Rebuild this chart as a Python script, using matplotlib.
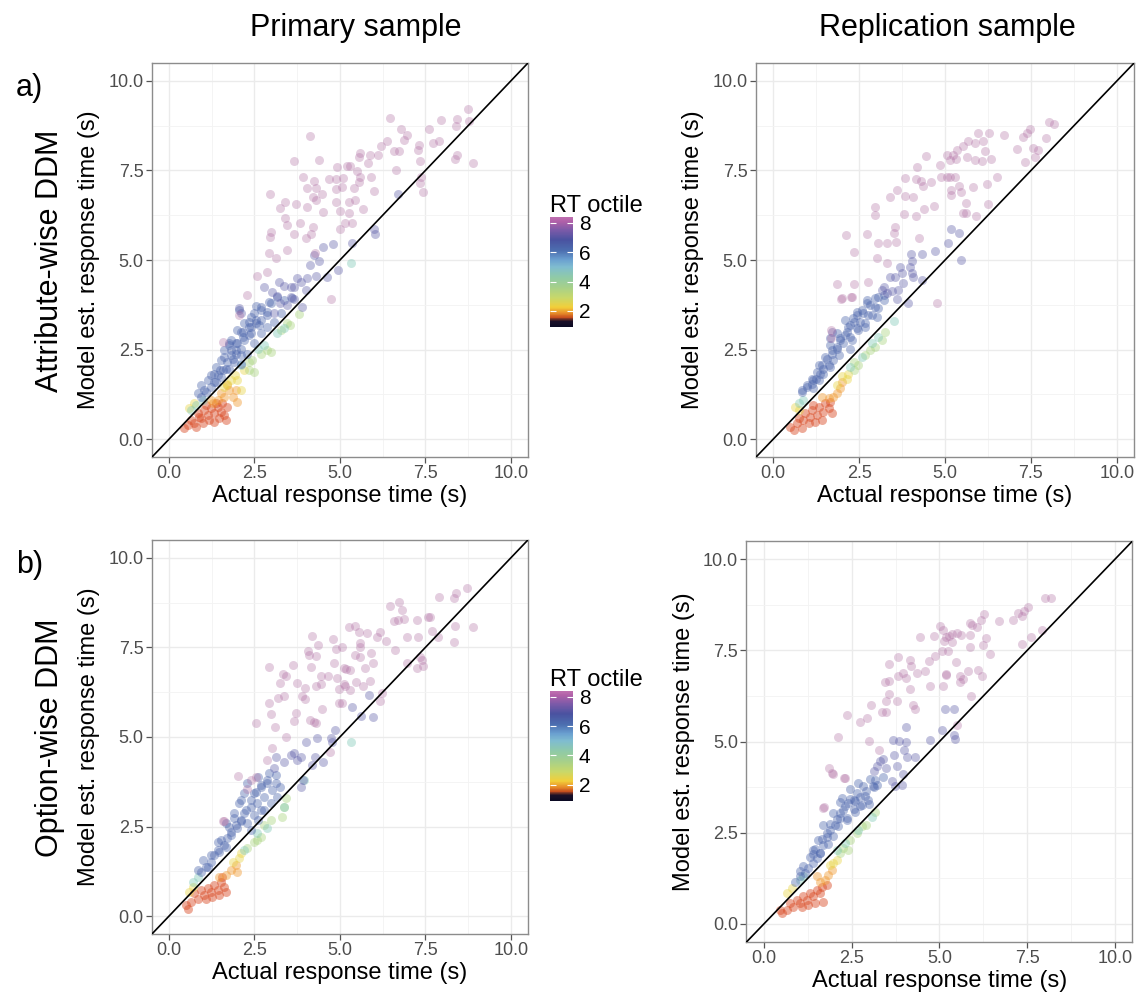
#RT octile scatter: model estimated vs actual response time, 2x2 panels

import numpy as np
import matplotlib.pyplot as plt
from matplotlib.colors import LinearSegmentedColormap, Normalize
from matplotlib.cm import ScalarMappable

plt.rcParams['font.family'] = ['Liberation Sans', 'DejaVu Sans']

# ---- data: {octile: [(actual RT, model RT), ...]} ----
attr_primary = {
    1: [(0.54,0.39),(0.74,0.44),(0.93,0.58),(1.13,0.67),(1.32,0.72),(1.52,0.76),(1.03,0.81),(1.22,0.86),
        (1.42,0.90),(1.61,0.67),(0.84,0.72),(0.64,0.53),(0.98,0.44),(1.18,0.53),(1.47,0.58),(1.66,0.53),
        (1.71,0.90),(0.79,0.34),(0.45,0.30),(1.32,0.48),(1.08,0.95),(1.56,1.00),(0.89,0.63),(1.37,1.00)],
    2: [(1.42,1.09),(1.61,1.18),(1.76,1.37),(1.22,1.09),(2.00,1.04),(1.86,1.18),(1.52,1.28),(1.95,1.37),
        (1.71,1.51),(1.30,1.00)],
    3: [(2.00,1.65),(2.10,1.37),(1.81,1.65),(2.20,1.93),(1.92,1.79),(0.74,1.00),(0.59,0.86),(1.60,1.45),
        (1.70,1.55)],
    4: [(2.34,1.93),(2.49,1.88),(2.44,2.21),(2.68,2.39),(2.88,2.49),(2.97,2.44),(3.27,3.04),(3.46,3.23),
        (2.34,2.16),(3.55,3.20),(3.80,3.50)],
    5: [(2.10,2.07),(2.59,2.53),(2.78,2.63),(3.17,2.95),(3.36,3.09),(5.31,4.93),(0.64,0.80),(0.80,0.95),
        (1.00,1.10)],
    6: [(2.93,3.84),(2.54,3.72),(2.68,3.60),(2.88,3.54),(2.39,3.42),(2.05,3.60),(2.54,3.32),(2.20,3.23),
        (2.34,3.14),(2.63,3.18),(2.10,3.00),(2.39,2.95),(1.81,2.77),(2.15,2.86),(1.97,2.67),(1.76,2.63),
        (1.61,2.49),(1.95,2.49),(1.81,2.35),(2.10,2.35),(1.52,2.21),(1.71,2.16),(1.90,2.16),(1.37,2.02),
        (1.57,1.93),(1.76,1.97),(1.22,1.79),(1.42,1.79),(1.13,1.65),(0.93,1.51),(1.32,1.60),(1.03,1.37),
        (0.84,1.28),(0.93,1.18),(1.08,1.32),(1.22,1.46),(1.37,1.60),(1.52,1.74),(1.32,1.83),(1.48,1.93),
        (1.66,1.97),(1.86,2.25),(1.95,2.39),(2.10,2.53),(1.81,2.49),(2.00,2.67),(2.20,2.77),(2.34,2.91),
        (2.15,3.00),(2.39,3.14),(2.54,3.23),(2.68,3.32),(2.88,3.46),(2.49,3.51),(2.68,3.70),(2.97,3.79),
        (3.17,3.98),(3.36,3.88),(3.61,3.93),(2.34,3.28),(2.00,3.04),(1.76,2.67),(1.61,2.30),(2.10,2.11),
        (2.29,2.39),(2.49,2.67),(2.68,2.95),(2.88,3.14),(3.07,3.28),(3.27,3.51)],
    7: [(6.69,6.84),(5.99,5.88),(6.04,5.74),(5.35,5.48),(4.80,5.44),(4.51,5.35),(4.24,5.14),(4.38,4.97),
        (4.11,4.86),(4.94,4.72),(4.31,4.55),(4.63,4.53),(4.04,4.49),(3.75,4.49),(3.85,4.39),(3.65,4.26),
        (3.58,4.26),(3.36,4.28),(3.22,4.39),(4.00,4.16),(3.02,4.12),(3.17,3.99),(3.56,3.96),(3.67,3.90),
        (3.26,3.79),(3.46,3.74),(3.88,3.70),(3.07,3.51),(2.10,3.51),(2.05,3.65),(2.78,4.26)],
    8: [(8.74,9.22),(6.47,8.96),(7.95,8.91),(8.42,8.93),(8.79,8.89),(8.39,8.74),(6.79,8.65),(7.62,8.66),
        (4.12,8.46),(6.96,8.48),(6.86,8.35),(6.38,8.33),(6.20,8.18),(7.30,8.21),(7.71,8.26),(7.91,8.31),
        (5.60,8.00),(6.57,8.05),(6.72,8.05),(7.28,8.07),(5.87,7.93),(6.11,7.93),(5.57,7.89),(8.42,7.93),
        (8.37,7.82),(7.33,7.77),(8.90,7.72),(3.65,7.77),(4.40,7.79),(5.82,7.70),(4.90,7.61),(5.21,7.63),
        (5.29,7.63),(6.65,7.51),(5.50,7.49),(3.93,7.33),(4.67,7.26),(4.87,7.26),(4.24,7.22),(5.08,7.28),
        (5.60,7.31),(5.92,7.31),(5.55,7.17),(7.37,7.31),(4.04,7.02),(4.30,7.00),(5.06,7.05),(4.87,6.97),
        (5.40,7.02),(5.99,6.93),(7.35,7.16),(7.42,6.91),(2.95,6.83),(4.48,6.84),(4.22,6.77),(4.87,6.63),
        (5.26,6.63),(5.45,6.68),(3.38,6.63),(3.72,6.56),(4.04,6.49),(4.31,6.68),(3.26,6.44),(5.01,6.38),
        (4.51,6.33),(5.26,6.32),(5.68,6.42),(3.38,6.16),(3.44,5.98),(3.83,6.02),(5.16,6.02),(5.35,6.04),
        (4.99,5.86),(3.65,5.74),(2.99,5.79),(2.95,5.65),(4.01,5.62),(4.14,5.74),(4.22,5.91),(3.44,5.28),
        (2.92,5.20),(3.12,5.05),(4.27,5.19),(2.57,4.55),(2.29,4.02),(2.05,3.46),(1.59,2.72),(2.88,4.67),
        (4.74,3.90)],
}

attr_replication = {
    1: [(0.49,0.34),(0.69,0.44),(0.88,0.53),(1.08,0.62),(1.27,0.67),(1.46,0.76),(1.61,0.86),(0.93,0.72),
        (1.12,0.81),(1.32,0.90),(1.51,1.00),(1.66,1.04),(0.74,0.58),(1.03,0.44),(1.22,0.48),(1.41,0.53),
        (0.59,0.25),(0.83,0.30),(1.71,0.72),(1.17,0.95)],
    2: [(1.75,1.18),(1.85,1.28),(1.61,1.14),(1.95,1.42),(1.42,1.18),(2.00,1.60)],
    3: [(2.14,1.69),(2.19,1.83),(1.85,1.51),(0.64,0.90),(0.74,0.81),(2.00,1.75)],
    4: [(2.34,1.93),(2.48,2.07),(2.67,2.35),(2.82,2.49),(2.97,2.58),(3.17,2.77),(3.26,3.00),(2.34,2.16)],
    5: [(2.24,2.02),(2.58,2.30),(2.87,2.67),(3.06,2.86),(0.74,1.00),(0.88,1.09),(3.50,3.30)],
    6: [(3.06,3.98),(2.72,3.88),(3.21,3.88),(2.82,3.74),(2.97,3.70),(2.43,3.56),(2.62,3.51),(2.77,3.46),
        (3.01,3.42),(2.33,3.37),(2.53,3.28),(2.24,3.18),(2.43,3.09),(2.67,3.14),(2.14,3.00),(1.95,2.81),
        (2.24,2.86),(2.04,2.67),(1.85,2.58),(2.24,2.53),(1.71,2.49),(1.90,2.35),(1.56,2.25),(1.75,2.21),
        (1.41,2.07),(1.65,2.02),(1.27,1.88),(1.46,1.83),(1.12,1.69),(1.32,1.65),(0.98,1.51),(0.83,1.32),
        (1.17,1.42),(0.83,1.37),(0.98,1.46),(1.12,1.55),(1.23,1.69),(1.37,1.83),(1.46,1.97),(1.61,2.07),
        (1.32,2.07),(1.51,2.30),(1.71,2.39),(1.85,2.53),(1.66,2.63),(1.95,2.77),(2.09,2.91),(1.85,2.95),
        (2.19,3.14),(2.34,3.28),(2.09,3.32),(2.43,3.46),(2.58,3.60),(2.72,3.79),(2.97,3.93),(3.21,4.02),
        (1.66,2.81),(1.17,1.65),(2.29,2.77),(2.48,3.04),(2.67,3.23),(2.87,3.46),(3.06,3.65)],
    7: [(5.17,5.86),(5.41,5.76),(5.08,5.47),(4.71,5.26),(4.01,5.17),(4.34,5.17),(4.03,4.98),(5.46,5.00),
        (3.69,4.81),(3.98,4.81),(3.75,4.63),(4.05,4.63),(3.40,4.53),(3.55,4.53),(4.32,4.44),(4.08,4.53),
        (3.79,4.35),(3.21,4.26),(3.16,4.16),(3.45,4.14),(3.64,4.16),(3.30,4.07),(3.60,3.90),(3.93,3.79),
        (1.71,3.00)],
    8: [(8.03,8.86),(8.18,8.80),(7.47,8.65),(7.38,8.54),(7.26,8.43),(5.97,8.54),(6.27,8.54),(6.72,8.49),
        (7.93,8.40),(5.68,8.31),(5.87,8.28),(6.11,8.31),(5.53,8.18),(6.16,8.05),(7.08,8.09),(7.55,8.12),
        (7.69,8.07),(5.34,8.07),(5.05,7.93),(5.24,7.93),(4.45,7.91),(5.65,7.87),(5.87,7.79),(6.07,7.77),
        (6.33,7.81),(7.62,7.87),(7.33,7.75),(5.13,7.79),(5.32,7.81),(4.84,7.65),(4.18,7.61),(4.88,7.33),
        (5.05,7.33),(5.15,7.31),(5.29,7.33),(6.50,7.31),(3.82,7.28),(4.16,7.26),(4.30,7.22),(4.60,7.19),
        (4.37,7.07),(5.41,7.07),(5.81,7.05),(6.21,7.12),(5.18,6.96),(3.60,6.96),(3.84,6.79),(4.08,6.77),
        (3.40,6.75),(5.46,6.91),(5.18,6.82),(2.97,6.49),(4.68,6.52),(5.61,6.58),(6.24,6.56),(2.97,6.25),
        (3.81,6.28),(4.15,6.23),(4.40,6.42),(5.53,6.30),(5.61,6.30),(5.89,6.24),(3.55,5.93),(3.50,5.76),
        (2.11,5.70),(2.72,5.72),(4.25,5.61),(3.32,5.48),(3.06,5.48),(3.58,5.51),(2.36,5.23),(3.02,5.07),
        (3.31,4.91),(1.85,4.33),(2.36,4.32),(2.77,4.39),(1.98,3.90),(2.27,3.97),(4.76,3.79),(1.69,3.04),
        (1.69,2.81),(2.00,3.93),(2.29,3.98)],
}

option_primary = {
    1: [(0.50,0.31),(0.64,0.40),(0.84,0.49),(1.03,0.59),(1.22,0.68),(1.42,0.73),(1.61,0.82),(0.93,0.73),
        (1.13,0.77),(1.32,0.87),(1.52,0.96),(0.74,0.63),(1.08,0.49),(1.26,0.54),(1.47,0.59),(1.66,0.68),
        (1.56,1.10),(0.54,0.21)],
    2: [(1.66,1.15),(1.81,1.28),(1.47,1.10),(1.95,1.42),(2.00,1.24)],
    3: [(2.05,1.61),(2.10,1.75),(1.86,1.52),(0.69,0.82),(0.59,0.68)],
    4: [(2.29,1.89),(2.49,2.08),(2.68,2.22),(2.78,2.54),(2.97,2.68),(3.31,2.77),(3.41,3.29),(2.58,2.12),
        (3.36,3.05)],
    5: [(2.20,1.84),(2.58,2.31),(2.88,2.45),(3.36,3.05),(3.95,3.80),(5.31,4.87),(0.70,0.95),(0.85,1.10)],
    6: [(2.92,3.99),(3.12,3.71),(2.88,3.71),(2.68,3.61),(3.02,3.52),(3.26,3.61),(2.49,3.43),(2.78,3.33),
        (2.58,3.15),(2.10,3.24),(2.39,3.05),(2.20,2.87),(2.49,2.82),(1.90,2.73),(2.10,2.64),(1.76,2.50),
        (1.99,2.45),(1.52,2.12),(1.80,2.26),(1.66,1.94),(1.42,1.84),(1.22,1.70),(0.98,1.56),(1.13,1.38),
        (0.84,1.28),(2.29,2.59),(2.68,2.96),(0.93,1.24),(1.08,1.38),(1.22,1.52),(1.32,1.70),(1.47,1.80),
        (1.61,1.98),(1.42,2.08),(1.71,2.17),(1.81,2.36),(1.95,2.54),(1.66,2.59),(2.10,2.68),(1.90,2.87),
        (2.24,2.96),(2.05,3.15),(2.39,3.24),(2.20,3.43),(2.54,3.47),(2.68,3.66),(2.88,3.80),(3.12,3.94),
        (2.29,3.71),(2.59,3.89),(2.39,2.40),(2.59,2.68),(2.78,2.96),(2.97,3.15),(3.17,3.33)],
    7: [(5.85,6.17),(5.34,5.83),(5.62,5.59),(5.96,5.55),(4.85,5.20),(4.75,4.96),(4.33,4.96),(4.77,4.87),
        (4.01,4.87),(4.28,4.45),(4.51,4.30),(3.65,4.54),(3.85,4.45),(3.75,4.36),(3.56,4.50),(3.14,4.43),
        (3.36,4.31),(4.19,4.22),(3.93,3.80),(3.85,3.61),(3.07,4.12)],
    8: [(8.71,9.15),(8.40,9.03),(7.90,8.90),(8.35,8.88),(6.74,8.76),(6.45,8.66),(6.83,8.55),(6.57,8.24),
        (6.69,8.27),(6.88,8.29),(7.25,8.27),(7.59,8.34),(7.64,8.34),(8.88,8.08),(8.37,8.10),(5.26,8.06),
        (5.45,8.10),(5.57,7.92),(5.79,7.90),(6.18,7.93),(6.08,7.80),(6.36,7.69),(6.96,7.80),(7.28,7.80),
        (7.69,7.96),(7.86,7.80),(8.35,7.66),(4.19,7.82),(4.80,7.74),(4.87,7.45),(5.05,7.52),(4.36,7.57),
        (4.07,7.41),(4.09,7.29),(5.58,7.62),(5.60,7.52),(6.62,7.43),(5.45,7.29),(5.60,7.24),(5.92,7.34),
        (4.30,7.26),(7.35,7.24),(7.40,7.15),(6.96,7.06),(7.25,6.92),(7.42,6.99),(2.92,6.94),(3.63,7.01),
        (4.16,6.96),(4.82,7.06),(5.13,6.92),(5.19,6.89),(5.28,6.87),(5.72,6.92),(5.97,7.06),(3.34,6.76),
        (3.43,6.70),(4.45,6.70),(4.65,6.70),(4.90,6.65),(3.26,6.50),(3.75,6.50),(3.98,6.38),(4.29,6.42),
        (4.46,6.47),(5.11,6.48),(5.16,6.42),(5.48,6.53),(5.68,6.42),(5.87,6.56),(6.23,6.22),(3.20,6.10),
        (3.36,6.15),(3.89,6.13),(3.97,6.06),(4.97,6.33),(5.29,6.31),(4.97,5.94),(5.06,5.94),(6.18,5.99),
        (2.92,5.94),(3.70,5.66),(2.99,5.64),(4.48,5.77),(4.12,5.47),(4.24,5.41),(4.31,5.40),(2.54,5.40),
        (3.65,5.45),(3.10,5.27),(3.43,5.01),(4.72,4.59),(3.02,4.70),(2.86,4.36),(2.02,3.91),(2.39,3.80),
        (2.54,3.89),(2.27,3.54),(1.58,2.64),(1.61,2.64)],
}

option_replication = {
    1: [(0.50,0.29),(0.65,0.38),(0.84,0.47),(1.03,0.57),(1.22,0.66),(1.41,0.75),(1.60,0.84),(0.93,0.66),
        (1.12,0.75),(1.31,0.84),(1.50,0.93),(1.64,1.02),(0.74,0.57),(1.07,0.47),(1.26,0.52),(1.45,0.57),
        (1.69,0.61),(1.79,1.07),(0.46,0.38)],
    2: [(1.74,1.21),(1.83,1.34),(1.60,1.16),(1.50,1.30),(1.93,1.48)],
    3: [(1.98,1.66),(2.07,1.75),(1.88,1.62),(0.65,0.84),(0.79,0.98)],
    4: [(2.17,1.94),(2.26,2.07),(2.45,2.30),(2.64,2.48),(2.78,2.67),(2.92,2.71),(3.16,3.08),(2.40,2.03)],
    5: [(2.07,2.03),(2.31,2.21),(2.69,2.58),(3.07,2.94),(1.03,1.21),(1.12,1.30)],
    6: [(3.02,3.96),(3.11,3.78),(2.83,3.78),(2.64,3.59),(2.88,3.50),(2.45,3.41),(2.74,3.23),(2.98,3.28),
        (2.55,3.14),(2.31,3.23),(2.17,3.05),(2.36,2.91),(2.07,2.87),(1.88,2.73),(2.12,2.68),(1.79,2.50),
        (1.98,2.41),(1.64,2.32),(1.83,2.18),(1.45,2.04),(1.60,1.95),(1.31,1.82),(1.12,1.59),(1.03,1.45),
        (1.41,1.91),(2.59,3.37),(2.21,3.46),(2.45,3.69),(3.21,3.82),(0.88,1.16),(1.03,1.30),(1.17,1.39),
        (1.26,1.53),(1.41,1.66),(1.50,1.80),(1.60,1.94),(1.41,2.03),(1.69,2.16),(1.55,2.30),(1.79,2.39),
        (1.88,2.58),(1.69,2.71),(2.02,2.71),(2.17,2.89),(1.98,3.03),(2.26,3.12),(2.40,3.31),(2.17,3.35),
        (2.55,3.40),(2.74,3.49),(2.92,3.63),(3.12,3.76),(3.16,3.95),(3.40,4.04),(2.69,3.85),(2.36,2.85),
        (2.59,3.08),(2.78,3.26),(2.97,3.40)],
    7: [(5.16,5.90),(5.41,5.90),(5.06,5.31),(4.05,5.40),(4.73,5.05),(5.40,5.19),(5.45,5.08),(3.67,5.05),
        (3.85,5.01),(4.04,4.98),(4.00,4.78),(4.07,4.58),(4.30,4.58),(3.40,4.53),(3.70,4.62),(3.21,4.32),
        (3.31,4.46),(3.13,4.19),(3.49,4.28),(3.78,4.32),(3.97,4.10),(3.73,3.78),(3.92,3.82),(3.64,3.91)],
    8: [(8.02,8.95),(8.18,8.95),(7.53,8.69),(7.42,8.59),(7.25,8.52),(7.34,8.43),(7.10,8.34),(6.28,8.50),
        (6.18,8.34),(5.87,8.25),(5.94,8.20),(6.06,8.14),(6.70,8.31),(5.01,8.18),(7.91,8.07),(7.61,7.88),
        (7.34,7.67),(5.61,7.93),(5.49,7.99),(5.35,7.96),(5.28,7.90),(5.20,7.88),(4.84,7.90),(4.44,7.86),
        (5.09,8.05),(5.87,7.93),(6.34,7.84),(5.13,7.77),(5.35,7.72),(5.87,7.58),(6.25,7.66),(6.45,7.41),
        (4.87,7.34),(5.06,7.47),(5.25,7.47),(4.71,7.20),(3.57,7.14),(3.83,7.31),(4.16,7.24),(4.18,7.06),
        (4.35,6.88),(4.59,6.94),(5.47,7.17),(5.19,6.86),(5.19,6.83),(5.82,6.93),(6.11,6.97),(6.22,6.79),
        (3.97,6.88),(4.05,6.74),(3.81,6.81),(5.58,6.79),(5.68,6.72),(3.45,6.62),(3.57,6.65),(4.16,6.45),
        (4.73,6.51),(5.09,6.51),(5.58,6.62),(3.57,6.31),(3.49,6.10),(3.78,6.10),(5.90,6.24),(3.05,5.99),
        (4.24,6.01),(4.30,5.89),(2.74,5.53),(2.93,5.65),(3.37,5.80),(3.49,5.80),(2.36,5.72),(5.49,5.44),
        (2.12,5.13),(2.99,5.01),(3.28,4.78),(1.85,4.28),(1.98,4.12),(2.29,4.01),(1.71,3.21),(1.69,3.17),
        (2.31,3.99),(1.93,4.13)],
}

oct_colors = {1: '#d8461f', 2: '#f0962a', 3: '#e6d23e', 4: '#a6d27a',
              5: '#7cc7b4', 6: '#4a64ab', 7: '#5c5ca8', 8: '#b070a4'}
oct_alpha = {1: 0.45, 2: 0.42, 3: 0.4, 4: 0.4, 5: 0.4, 6: 0.4, 7: 0.38, 8: 0.34}

# colourbar palette (value, colour)
cbar_nodes = [(0.90, '#0a0a23'), (1.30, '#1c1028'), (1.55, '#c8501e'), (1.85, '#e8902a'),
              (2.25, '#f2cf3a'), (2.90, '#c8d86a'), (3.60, '#a6d08a'), (4.30, '#8fcaa8'),
              (5.00, '#7fbcd0'), (5.50, '#6a9fd0'), (6.10, '#4c6fb0'), (6.85, '#4a52a0'),
              (7.50, '#7a5aa8'), (8.10, '#b060a8'), (8.40, '#c070b0')]
cb_lo, cb_hi = 0.9, 8.4

ticks = [0, 2.5, 5, 7.5, 10]
tick_labels = ['0.0', '2.5', '5.0', '7.5', '10.0']

fig = plt.figure(figsize=(11.4, 9.94), dpi=100)


def panel(rect, pts):
    ax = fig.add_axes(rect)
    for o in range(1, 9):
        xy = np.array(pts[o])
        ax.scatter(xy[:, 0], xy[:, 1], s=42, color=oct_colors[o], alpha=oct_alpha[o],
                   lw=0, zorder=2)
    ax.plot([-0.5, 10.5], [-0.5, 10.5], color='black', lw=1.2, zorder=3)
    ax.set_xlim(-0.5, 10.5)
    ax.set_ylim(-0.5, 10.5)
    ax.set_xticks(ticks)
    ax.set_xticklabels(tick_labels)
    ax.set_yticks(ticks)
    ax.set_yticklabels(tick_labels)
    ax.set_xticks([1.25, 3.75, 6.25, 8.75], minor=True)
    ax.set_yticks([1.25, 3.75, 6.25, 8.75], minor=True)
    ax.set_axisbelow(True)
    ax.grid(which='major', color='#ebebeb', lw=1.0)
    ax.grid(which='minor', color='#f3f3f3', lw=0.6)
    ax.tick_params(which='minor', length=0)
    ax.tick_params(which='major', length=4, width=0.9, color='#555555',
                   labelcolor='#4d4d4d', labelsize=13, pad=2)
    for s in ax.spines.values():
        s.set_color('#8c8c8c')
        s.set_linewidth(1.0)
    ax.set_xlabel('Actual response time (s)', fontsize=17, labelpad=2)
    ax.set_ylabel('Model est. response time (s)', fontsize=17, labelpad=6)
    return ax


panel([0.1333, 0.5402, 0.3298, 0.3964], attr_primary)
panel([0.6632, 0.5402, 0.3316, 0.3964], attr_replication)
panel([0.1333, 0.0604, 0.3298, 0.3964], option_primary)
panel([0.6548, 0.0523, 0.3386, 0.4034], option_replication)

cmap = LinearSegmentedColormap.from_list(
    'rt', [((v - cb_lo) / (cb_hi - cb_lo), c) for v, c in cbar_nodes])
norm = Normalize(cb_lo, cb_hi)

for bottom in [0.671, 0.1942]:
    cax = fig.add_axes([0.4825, bottom, 0.0202, 0.1107])
    cb = fig.colorbar(ScalarMappable(norm=norm, cmap=cmap), cax=cax)
    cb.set_ticks([2, 4, 6, 8])
    cb.outline.set_visible(False)
    cax.yaxis.set_ticks_position('both')
    cax.tick_params(direction='in', color='white', length=4, width=0.8,
                    labelsize=15, pad=4, labelright=True, labelleft=False)
    cax.set_title('RT octile', fontsize=17, loc='left', pad=3)

fig.text(0.3125, 0.972, 'Primary sample', fontsize=22, ha='center', va='center')
fig.text(0.831, 0.972, 'Replication sample', fontsize=22, ha='center', va='center')
fig.text(0.026, 0.911, 'a)', fontsize=22, ha='center', va='center')
fig.text(0.026, 0.432, 'b)', fontsize=22, ha='center', va='center')
fig.text(0.044, 0.738, 'Attribute-wise DDM', fontsize=22, rotation=90, ha='center', va='center')
fig.text(0.044, 0.258, 'Option-wise DDM', fontsize=22, rotation=90, ha='center', va='center')

fig.savefig('out.png', dpi=100)
